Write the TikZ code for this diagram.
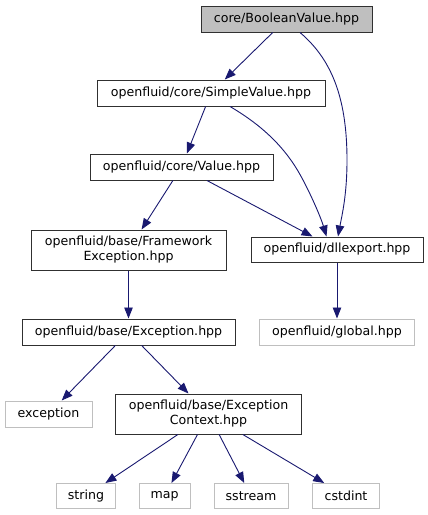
\documentclass[tikz,border=0pt]{standalone}
\usepackage{fontspec}
\setmainfont{DejaVu Sans}
\usetikzlibrary{arrows.meta}
\definecolor{edgec}{HTML}{191970}
\definecolor{darkb}{HTML}{303030}
\definecolor{lightb}{HTML}{BFBFBF}
\tikzset{
  box/.style={draw=darkb, line width=1pt, fill=white, inner sep=0pt, align=center,
     font=\fontsize{12.6}{15}\selectfont},
  lbox/.style={box, draw=lightb},
  rootbox/.style={box, fill=lightb},
  edge/.style={draw=edgec, line width=0.9pt, -{Triangle[length=11pt,width=8.5pt]}}
}
\begin{document}
\begin{tikzpicture}[x=1pt,y=-1pt]
\useasboundingbox (0,0) rectangle (428,515);
\node[rootbox, minimum width=171, minimum height=26] (bv) at (286.5,19) {core/BooleanValue.hpp};
\node[box, minimum width=228, minimum height=26] (sv) at (211,93) {openfluid/core/SimpleValue.hpp};
\node[box, minimum width=183, minimum height=26] (val) at (181.5,167) {openfluid/core/Value.hpp};
\node[box, minimum width=195, minimum height=40] (fe) at (128.5,250) {openfluid/base/Framework\\Exception.hpp};
\node[box, minimum width=172, minimum height=25] (dll) at (337,249.5) {openfluid/dllexport.hpp};
\node[box, minimum width=213, minimum height=26] (exc) at (128.5,332) {openfluid/base/Exception.hpp};
\node[lbox, minimum width=155, minimum height=26] (glob) at (337,332) {openfluid/global.hpp};
\node[lbox, minimum width=87, minimum height=26] (stdexc) at (48.5,414) {exception};
\node[box, minimum width=186, minimum height=40] (ec) at (208.5,414) {openfluid/base/Exception\\Context.hpp};
\node[lbox, minimum width=59, minimum height=25] (str) at (86,496) {string};
\node[lbox, minimum width=51, minimum height=25] (map) at (164.5,496) {map};
\node[lbox, minimum width=74, minimum height=25] (sst) at (251,496) {sstream};
\node[lbox, minimum width=67, minimum height=25] (cst) at (346,496) {cstdint};

\draw[edge] (bv) -- (sv);
\draw[edge] ([xshift=13.5pt]bv.south) .. controls (330,58) and (347,95) .. (347,160) .. controls (347,195) and (342,215) .. ([xshift=1pt]dll.north);
\draw[edge] (sv) -- (val);
\draw[edge] ([xshift=19pt]sv.south) .. controls (270,130) and (290,155) .. (303,180) .. controls (312,197) and (321,218) .. ([xshift=-10.5pt]dll.north);
\draw[edge] (val) -- (fe);
\draw[edge] (val) -- (dll);
\draw[edge] (dll) -- (glob);
\draw[edge] (fe) -- (exc);
\draw[edge] (exc) -- (stdexc);
\draw[edge] (exc) -- (ec);
\draw[edge] (ec) -- (str);
\draw[edge] (ec) -- (map);
\draw[edge] (ec) -- (sst);
\draw[edge] (ec) -- (cst);
\end{tikzpicture}
\end{document}
